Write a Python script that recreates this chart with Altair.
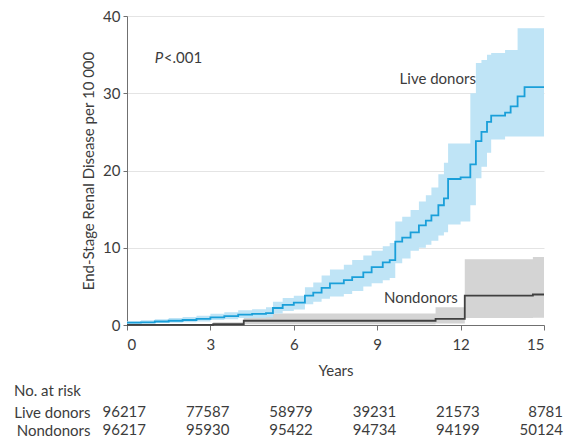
import altair as alt
import pandas as pd

# ---- data ----
live_years = [0, 0.5, 1.0, 1.5, 2.0, 2.5, 3.0, 3.5, 4.0, 4.5,
              5.0, 5.25, 5.6, 6.0, 6.4, 6.7, 7.0, 7.3, 7.8, 8.1,
              8.5, 8.8, 9.2, 9.45, 9.65, 9.9, 10.2, 10.5, 10.75, 10.95,
              11.2, 11.4, 11.55, 12.0, 12.35, 12.55, 12.75, 12.95, 13.1, 13.6,
              13.8, 14.05, 14.3, 15.0]
live_est = [0.3, 0.35, 0.45, 0.55, 0.65, 0.8, 1.0, 1.15, 1.35, 1.45,
            1.55, 2.2, 2.6, 2.9, 3.8, 4.2, 4.8, 5.4, 5.8, 6.2,
            6.8, 7.5, 8.1, 8.4, 10.8, 11.3, 12.0, 12.9, 13.5, 14.2,
            15.5, 16.4, 18.9, 19.1, 20.8, 23.8, 25.0, 26.3, 27.1, 27.5,
            28.3, 29.6, 30.8, 30.8]
live_lo = [0.15, 0.2, 0.25, 0.3, 0.35, 0.45, 0.65, 0.75, 0.9, 0.95,
           1.0, 1.5, 1.8, 2.0, 2.7, 3.0, 3.4, 3.7, 4.0, 4.4,
           5.0, 5.4, 5.8, 6.1, 8.0, 8.6, 9.6, 10.0, 10.4, 10.9,
           11.6, 12.0, 13.0, 13.4, 15.5, 19.0, 20.5, 22.3, 24.0, 24.4,
           24.4, 24.4, 24.4, 24.4]
live_hi = [0.5, 0.6, 0.75, 0.9, 1.05, 1.2, 1.45, 1.65, 1.9, 2.05,
           2.3, 3.0, 3.5, 3.8, 4.9, 5.5, 6.4, 7.2, 7.8, 8.4,
           9.0, 9.6, 10.2, 10.6, 13.4, 14.0, 14.9, 16.0, 16.8, 17.8,
           19.5, 21.0, 23.5, 23.5, 30.0, 33.9, 34.3, 35.0, 35.2, 35.6,
           35.6, 38.4, 38.4, 38.4]

non_years = [0, 3.1, 4.2, 11.1, 12.15, 14.6, 15.0]
non_est = [0.02, 0.1, 0.55, 0.8, 3.8, 3.95, 3.95]
non_lo = [0.0, 0.0, 0.1, 0.2, 0.9, 0.95, 0.95]
non_hi = [0.1, 0.35, 1.5, 2.3, 8.5, 8.8, 8.8]

risk_years = [0, 3, 6, 9, 12, 15]
risk_live = [96217, 77587, 58979, 39231, 21573, 8781]
risk_non = [96217, 95930, 95422, 94734, 94199, 50124]
risk_groups = ["Live donors", "Nondonors"]
y_ticks = [0, 10, 20, 30, 40]

# ---- style ----
FONT = "Lato"
TXT = "#3c3c3c"
AX = "#707070"
BLUE = "#1a9fd9"
BLUE_BAND = "#bfe4f6"
GRAY = "#404040"
GRAY_BAND = "#d4d4d4"
FS = 15
W, H = 417, 309

live = pd.DataFrame(dict(t=live_years, est=live_est, lo=live_lo, hi=live_hi))
non = pd.DataFrame(dict(t=non_years, est=non_est, lo=non_lo, hi=non_hi))
risk = pd.DataFrame(dict(
    t=risk_years + risk_years,
    group=[risk_groups[0]] * 6 + [risk_groups[1]] * 6,
    n=[str(v) for v in risk_live + risk_non],
))
one = pd.DataFrame({"k": [0]})

xs = alt.Scale(domain=[0, 15], nice=False, zero=False)
ys = alt.Scale(domain=[0, 40], nice=False)

x_axis = alt.Axis(values=risk_years, title="Years", grid=False, tickSize=5,
                  labelPadding=7, titlePadding=11, domainColor=AX, tickColor=AX,
                  labelColor=TXT, titleColor=TXT, labelFontSize=FS,
                  titleFontSize=FS, titleFontWeight="normal")
y_axis = alt.Axis(values=y_ticks, title="End-Stage Renal Disease per 10 000",
                  grid=True, gridColor="#e4e4e4", tickSize=4, labelPadding=3,
                  titlePadding=6, domainColor=AX, tickColor=AX, labelColor=TXT,
                  titleColor=TXT, labelFontSize=FS, titleFontSize=FS,
                  titleFontWeight="normal")


def X(f):
    return alt.X(f"{f}:Q", scale=xs, axis=x_axis)


def Y(f):
    return alt.Y(f"{f}:Q", scale=ys, axis=y_axis)


non_band = alt.Chart(non).mark_area(interpolate="step-after", color=GRAY_BAND).encode(
    x=X("t"), y=Y("hi"), y2="lo")
live_band = alt.Chart(live).mark_area(interpolate="step-after", color=BLUE_BAND).encode(
    x=X("t"), y=Y("hi"), y2="lo")
non_line = alt.Chart(non).mark_line(interpolate="step-after", color=GRAY, strokeWidth=1.8).encode(
    x=X("t"), y=Y("est"))
live_line = alt.Chart(live).mark_line(interpolate="step-after", color=BLUE, strokeWidth=1.8).encode(
    x=X("t"), y=Y("est"))

base_txt = alt.Chart(one).mark_text(fontSize=FS, color=TXT, align="right", baseline="middle")
lab_live = base_txt.encode(x=alt.datum(12.55), y=alt.datum(31.8), text=alt.value("Live donors"))
lab_non = base_txt.encode(x=alt.datum(11.9), y=alt.datum(3.5), text=alt.value("Nondonors"))
p_italic = alt.Chart(one).mark_text(fontSize=FS, color=TXT, align="left", baseline="middle",
                                    fontStyle="italic").encode(
    x=alt.datum(1.0), y=alt.datum(34.6), text=alt.value("P"))
p_rest = alt.Chart(one).mark_text(fontSize=FS, color=TXT, align="left", baseline="middle",
                                  dx=9).encode(
    x=alt.datum(1.0), y=alt.datum(34.6), text=alt.value("<.001"))

main = alt.layer(non_band, live_band, non_line, live_line,
                 lab_live, lab_non, p_italic, p_rest).properties(width=W, height=H)

table = alt.Chart(risk).mark_text(fontSize=FS, color=TXT, align="right", baseline="middle",
                                  dx=19).encode(
    x=alt.X("t:Q", scale=xs, axis=None),
    y=alt.Y("group:N", sort=risk_groups,
            scale=alt.Scale(type="point", padding=0.3),
            axis=alt.Axis(title=None, domain=False, ticks=False, tickSize=0,
                          labelPadding=37, labelFontSize=FS, labelColor=TXT)),
    text="n:N",
).properties(
    width=W, height=alt.Step(18),
    title=alt.TitleParams("No. at risk", anchor="start", frame="group", dx=-113,
                          fontSize=FS, fontWeight="normal", color=TXT, offset=6),
)

chart = alt.vconcat(main, table, spacing=4).properties(
    padding={"left": 5, "top": 0, "right": 0, "bottom": 0}
).configure(font=FONT).configure_view(stroke="transparent")

chart.save("out.html", embed_options={"renderer": "svg", "actions": False})
